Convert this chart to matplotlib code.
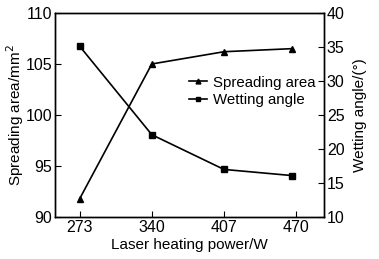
import matplotlib
matplotlib.use("Agg")
import matplotlib.pyplot as plt

plt.rcParams['font.family'] = ['Liberation Sans', 'DejaVu Sans']

# data
power = [273, 340, 407, 470]
spreading_area = [91.8, 105.0, 106.2, 106.5]
wetting_angle = [35.1, 22.1, 17.0, 16.1]

# tick marks sit at equal 67 W steps, last one labelled 470
tick_pos = [273, 340, 407, 474]
tick_labels = ['273', '340', '407', '470']

fig, ax = plt.subplots(figsize=(3.79, 2.59), dpi=100)
fig.subplots_adjust(left=0.145, right=0.855, bottom=0.162, top=0.95)
ax2 = ax.twinx()

l1, = ax.plot(power, spreading_area, color='black', lw=1.2,
              marker='^', ms=5, label='Spreading area')
l2, = ax2.plot(power, wetting_angle, color='black', lw=1.2,
               marker='s', ms=4.5, label='Wetting angle')

ax.set_xlim(250, 500)
ax.set_ylim(90, 110)
ax2.set_ylim(10, 40)
ax.set_xticks(tick_pos)
ax.set_xticklabels(tick_labels)
ax.set_yticks([90, 95, 100, 105, 110])
ax2.set_yticks([10, 15, 20, 25, 30, 35, 40])

for a in (ax, ax2):
    a.tick_params(direction='in', length=4, width=0.8, labelsize=11.5, pad=2)
    for s in a.spines.values():
        s.set_linewidth(1.0)

ax.set_xlabel('Laser heating power/W', fontsize=11, labelpad=2)
ax.set_ylabel('Spreading area/mm$^2$', fontsize=11, labelpad=0)
ax2.set_ylabel('Wetting angle/(°)', fontsize=11, labelpad=6)

ax.legend(handles=[l1, l2], loc='upper left', bbox_to_anchor=(0.47, 0.73),
          frameon=False, fontsize=10.8, handlelength=1.2, handletextpad=0.4,
          borderpad=0, labelspacing=0.25, markerscale=0.7)

fig.savefig('out.png', dpi=100)
